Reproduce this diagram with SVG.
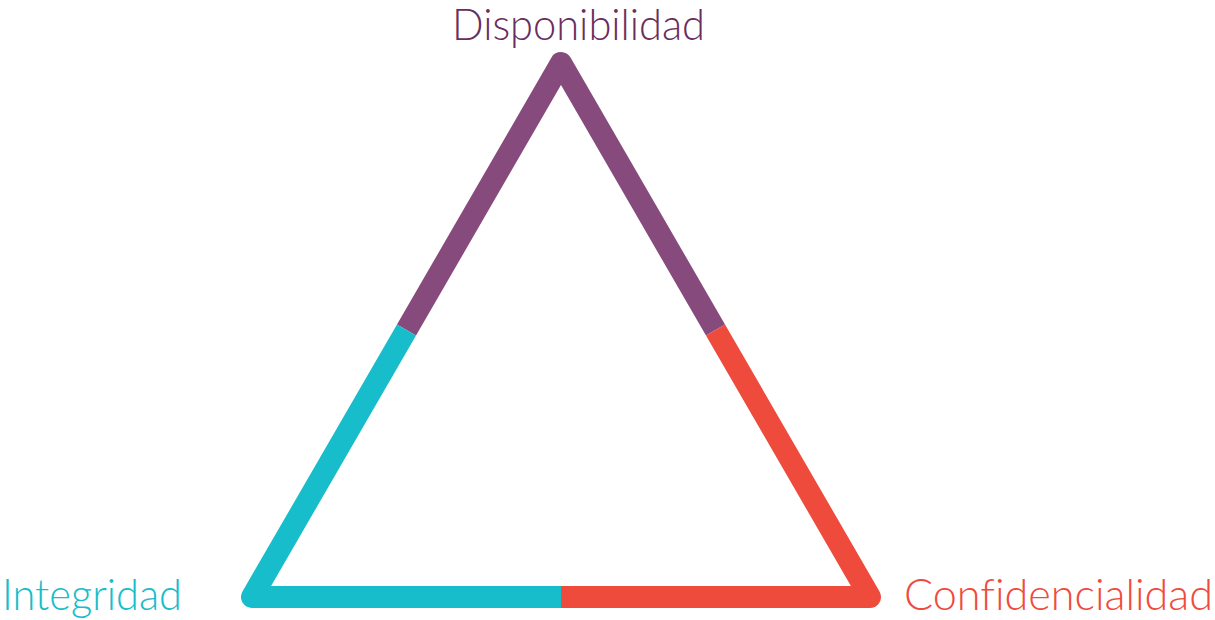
<svg xmlns="http://www.w3.org/2000/svg" width="1215" height="620" viewBox="0 0 1215 620">
<style>
.edge{fill:none;stroke-width:22;stroke-linejoin:round;stroke-linecap:butt}
.lbl{font-family:Lato,"Liberation Sans",sans-serif;font-weight:300;font-size:43px;font-variant-ligatures:none;font-feature-settings:"liga" 0}
</style>
<rect width="1215" height="620" fill="#ffffff"/>
<g id="connectors">
<polyline class="edge" stroke="#874A7C" points="406.5,330 561,63 715.5,330"/>
<polyline class="edge" stroke="#17BDCA" points="406.5,330 252,597 562,597"/>
<polyline class="edge" stroke="#EF4B3C" points="561,597 870,597 715.5,330"/>
</g>
<g id="node-disponibilidad">
<text class="lbl" x="452" y="40" fill="#6B2D5C" textLength="253" lengthAdjust="spacingAndGlyphs">Disponibilidad</text>
</g>
<g id="node-integridad">
<text class="lbl" x="2" y="610" fill="#17BDCA" textLength="180" lengthAdjust="spacingAndGlyphs">Integridad</text>
</g>
<g id="node-confidencialidad">
<text class="lbl" x="904" y="610" fill="#EF4B3C" textLength="309" lengthAdjust="spacingAndGlyphs">Confidencialidad</text>
</g>
</svg>
